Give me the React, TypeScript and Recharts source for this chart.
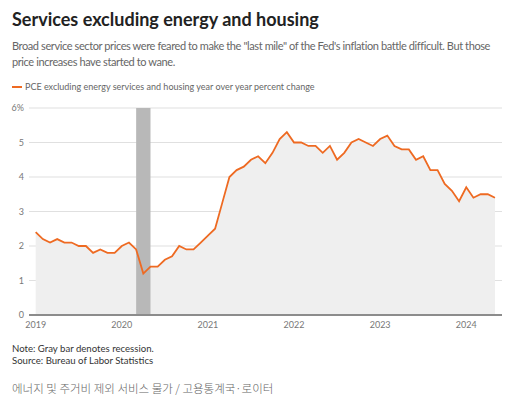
import React from "react";
import {
  ComposedChart,
  Area,
  Line,
  XAxis,
  YAxis,
  CartesianGrid,
  ReferenceArea,
} from "recharts";

// Monthly PCE services ex energy & housing, YoY %, Jan 2019 – May 2024
const values: number[] = [
  2.4, 2.2, 2.1, 2.2, 2.1, 2.1, 2.0, 2.0, 1.8, 1.9, 1.8, 1.8,
  2.0, 2.1, 1.9, 1.2, 1.4, 1.4, 1.6, 1.7, 2.0, 1.9, 1.9, 2.1,
  2.3, 2.5, 3.25, 4.0, 4.2, 4.3, 4.5, 4.6, 4.4, 4.7, 5.1, 5.3,
  5.0, 5.0, 4.9, 4.9, 4.7, 4.9, 4.5, 4.7, 5.0, 5.1, 5.0, 4.9,
  5.1, 5.2, 4.9, 4.8, 4.8, 4.5, 4.6, 4.2, 4.2, 3.8, 3.6, 3.3,
  3.7, 3.4, 3.5, 3.5, 3.4,
];
const startYear = 2019;
const yearLabels: string[] = ["2019", "2020", "2021", "2022", "2023", "2024"];
const yTicks: number[] = [0, 1, 2, 3, 4, 5, 6];
// recession (month indices from Jan 2019)
const recessionStart = 14;
const recessionEnd = 16;

const data = values.map((v, i) => ({
  i,
  label: `${startYear + Math.floor(i / 12)}-${String((i % 12) + 1).padStart(2, "0")}`,
  v,
}));

const xTicks = yearLabels.map((_, k) => k * 12);

const ORANGE = "#ee6a22";
const FONT = "Lato, 'Noto Sans', sans-serif";

export default function App() {
  return (
    <div
      style={{
        position: "absolute",
        left: 0,
        top: 0,
        width: 523,
        height: 407,
        background: "#fff",
        fontFamily: FONT,
        overflow: "hidden",
      }}
    >
      <div
        style={{
          position: "absolute",
          left: 12,
          top: 8,
          fontSize: 18,
          fontWeight: 700,
          color: "#222",
          whiteSpace: "nowrap",
        }}
      >
        Services excluding energy and housing
      </div>
      <div
        style={{
          position: "absolute",
          left: 12,
          top: 38,
          fontSize: 11,
          letterSpacing: -0.4,
          lineHeight: "16px",
          color: "#666",
          whiteSpace: "nowrap",
        }}
      >
        Broad service sector prices were feared to make the "last mile" of the Fed's inflation battle difficult. But those
        <br />
        price increases have started to wane.
      </div>
      <div
        style={{
          position: "absolute",
          left: 12,
          top: 81,
          fontSize: 9,
          color: "#666",
          display: "flex",
          alignItems: "center",
          whiteSpace: "nowrap",
        }}
      >
        <span
          style={{
            display: "inline-block",
            width: 10,
            height: 2,
            background: ORANGE,
            marginRight: 3,
          }}
        />
        PCE excluding energy services and housing year over year percent change
      </div>

      <div style={{ position: "absolute", left: 0, top: 0 }}>
        <ComposedChart
          width={523}
          height={340}
          data={data}
          margin={{ top: 108, right: 21, bottom: 5, left: 0 }}
        >
          <CartesianGrid vertical={false} stroke="#e0e0e0" strokeWidth={1.2} />
          <XAxis
            dataKey="i"
            type="number"
            domain={[-0.93, 64.98]}
            ticks={xTicks}
            tickFormatter={(t: number) => yearLabels[Math.round(t / 12)]}
            tickLine={false}
            tickSize={0}
            tickMargin={7}
            axisLine={{ stroke: "#8c8c8c", strokeWidth: 2 }}
            tick={{ fontSize: 9, fill: "#777", fontFamily: FONT }}
            height={20}
            allowDataOverflow
          />
          <YAxis
            type="number"
            domain={[0, 6]}
            ticks={yTicks}
            tickFormatter={(t: number) => (t === 6 ? "6%" : String(t))}
            tickLine={false}
            axisLine={false}
            tickSize={0}
            tickMargin={5}
            width={29}
            tick={{ fontSize: 9, fill: "#777", fontFamily: FONT }}
          />
          <Area
            dataKey="v"
            type="linear"
            fill="#efefef"
            fillOpacity={1}
            stroke="none"
            isAnimationActive={false}
            dot={false}
            activeDot={false}
          />
          <ReferenceArea
            x1={recessionStart}
            x2={recessionEnd}
            y1={0}
            y2={6}
            fill="#b8b8b8"
            fillOpacity={1}
            stroke="none"
          />
          <Line
            dataKey="v"
            type="linear"
            stroke={ORANGE}
            strokeWidth={1.8}
            dot={false}
            activeDot={false}
            isAnimationActive={false}
          />
        </ComposedChart>
      </div>

      <div
        style={{
          position: "absolute",
          left: 12,
          top: 343,
          fontSize: 9.6,
          lineHeight: "12px",
          color: "#333",
          whiteSpace: "nowrap",
        }}
      >
        <div>Note: Gray bar denotes recession.</div>
        <div>Source: Bureau of Labor Statistics</div>
      </div>
      <div
        style={{
          position: "absolute",
          left: 12,
          top: 380,
          fontSize: 11.5,
          color: "#666",
          fontFamily: "'Noto Sans CJK KR', sans-serif",
          fontWeight: 300,
          whiteSpace: "nowrap",
        }}
      >
        에너지 및 주거비 제외 서비스 물가 / 고용통계국·로이터
      </div>
    </div>
  );
}
